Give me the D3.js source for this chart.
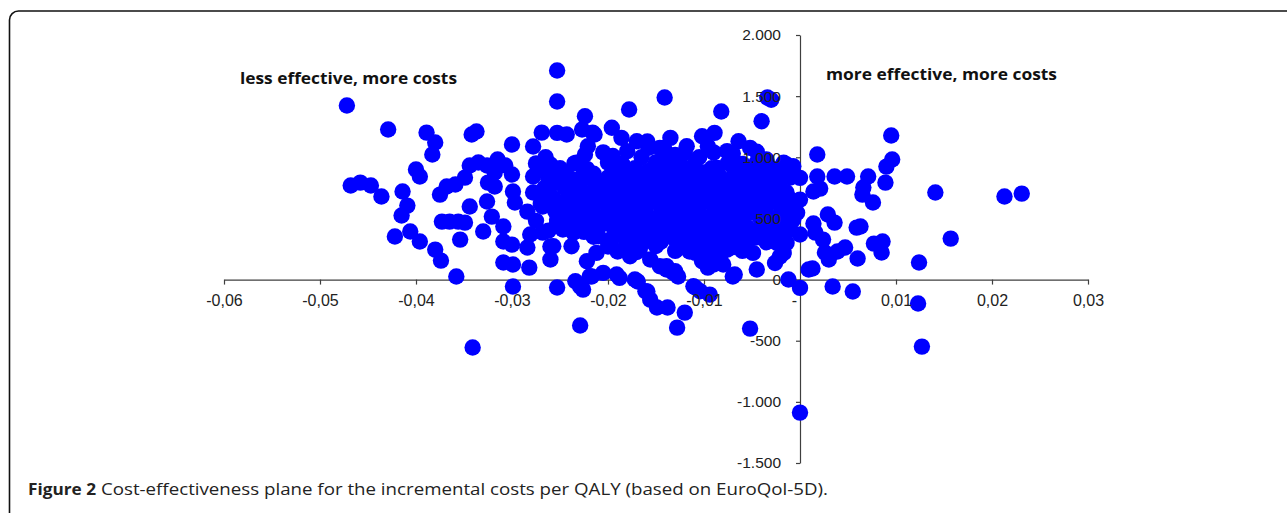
<!DOCTYPE html>
<html><head><meta charset="utf-8">
<script src="https://cdn.jsdelivr.net/npm/d3@7"></script>
<style>body{margin:0;background:#fff;overflow:hidden} svg{display:block}</style>
</head><body>
<svg id="chart" width="1287" height="513"></svg>
<script>
// Incremental effects (QALY) and incremental costs per bootstrap replicate
const effects = [
 -0.0472,-0.0429,-0.0468,-0.0458,-0.0447,-0.0436,-0.0400,-0.0396,-0.0414,-0.0409,
 -0.0415,-0.0422,-0.0406,-0.0396,-0.0389,-0.0380,-0.0383,-0.0380,-0.0374,-0.0358,
 -0.0375,-0.0368,-0.0359,-0.0349,-0.0344,-0.0335,-0.0326,-0.0342,-0.0337,-0.0318,
 -0.0315,-0.0307,-0.0300,-0.0318,-0.0326,-0.0344,-0.0373,-0.0365,-0.0356,-0.0349,
 -0.0354,-0.0330,-0.0321,-0.0309,-0.0299,-0.0297,-0.0309,-0.0300,-0.0309,-0.0299,
 -0.0299,-0.0341,-0.0300,-0.0282,-0.0284,-0.0281,-0.0284,-0.0278,-0.0278,-0.0278,
 -0.0269,-0.0253,-0.0253,-0.0253,-0.0268,-0.0260,-0.0260,-0.0325,-0.0253,-0.0243,
 -0.0224,-0.0227,-0.0214,-0.0196,-0.0186,-0.0170,-0.0158,-0.0146,-0.0260,-0.0257,
 -0.0247,-0.0266,-0.0257,-0.0250,-0.0253,-0.0233,-0.0227,-0.0224,-0.0221,-0.0236,
 -0.0257,-0.0238,-0.0236,-0.0234,-0.0226,-0.0219,-0.0205,-0.0191,-0.0222,-0.0212,
 -0.0210,-0.0219,-0.0205,-0.0177,-0.0167,-0.0156,-0.0146,-0.0139,-0.0161,-0.0172,
 -0.0188,-0.0082,-0.0040,-0.0135,-0.0102,-0.0089,-0.0118,-0.0096,-0.0064,-0.0052,
 -0.0076,-0.0035,-0.0017,-0.0007,-0.0087,0.0000,-0.0142,-0.0141,0.0000,-0.0003,
 -0.0007,0.0000,-0.0024,-0.0017,-0.0014,-0.0026,-0.0045,-0.0068,-0.0090,-0.0083,
 -0.0102,-0.0109,-0.0130,-0.0139,-0.0111,-0.0104,-0.0012,0.0000,0.0009,-0.0057,
 -0.0049,-0.0042,-0.0066,-0.0076,0.0095,0.0096,0.0090,0.0018,-0.0014,0.0018,
 0.0036,0.0049,0.0071,0.0066,0.0065,0.0089,0.0076,0.0021,0.0014,0.0141,
 0.0213,0.0231,0.0029,0.0036,0.0014,0.0016,0.0024,0.0059,0.0063,0.0077,
 0.0086,0.0085,0.0047,0.0039,0.0026,0.0030,0.0060,0.0013,0.0157,0.0124,
 0.0034,0.0055,0.0123,0.0127,0.0000,-0.0021,-0.0021,-0.0014,-0.0010,-0.0007,
 -0.0016,-0.0010,-0.0021,-0.0016,-0.0021,-0.0010,-0.0229,-0.0128,-0.0052,-0.0120,
 -0.0138,-0.0149,-0.0159,-0.0156,-0.0109,-0.0094,-0.0169,-0.0217,-0.0229,-0.0132,
 -0.0127,-0.0070,-0.0096,-0.0080,-0.0141,-0.0178,-0.0034,-0.0030,-0.0216,-0.0159,
 -0.0275,-0.0265,-0.0262,-0.0270,-0.0255,-0.0262,-0.0275,-0.0266,-0.0264,-0.0268,
 -0.0253,-0.0247,
 -0.0235,-0.0200,-0.0185,-0.0150,-0.0125,-0.0110,-0.0075,-0.0060,-0.0045,-0.0195,-0.0165,-0.0130,-0.0105,
 -0.0245,-0.0215,-0.0195,-0.0180,-0.0160,-0.0140,-0.0120,-0.0100,-0.0085,-0.0065,-0.0050,-0.0030,
 -0.0255,-0.0230,-0.0205,-0.0190,-0.0170,-0.0150,-0.0135,-0.0115,-0.0095,-0.0080,-0.0060,-0.0040,-0.0025,
 -0.0240,-0.0220,-0.0200,-0.0180,-0.0165,-0.0145,-0.0125,-0.0105,-0.0090,-0.0070,-0.0055,-0.0035,-0.0020,
 -0.0250,-0.0225,-0.0210,-0.0190,-0.0170,-0.0155,-0.0135,-0.0115,-0.0100,-0.0080,-0.0065,-0.0045,-0.0030,
 -0.0230,-0.0215,-0.0195,-0.0175,-0.0160,-0.0140,-0.0120,-0.0105,-0.0085,-0.0070,-0.0050,-0.0035,
 -0.0240,-0.0220,-0.0200,-0.0185,-0.0165,-0.0150,-0.0130,-0.0110,-0.0095,-0.0075,-0.0060,-0.0040,-0.0025,
 -0.0225,-0.0190,-0.0175,-0.0155,-0.0135,-0.0120,-0.0100,-0.0085,-0.0065,-0.0050,-0.0030,
 -0.0200,-0.0180,-0.0160,-0.0145,-0.0125,-0.0110,-0.0090,-0.0075,-0.0055,-0.0035,
 -0.0190,-0.0170,-0.0130,-0.0115,-0.0095,-0.0060,
 -0.0250,-0.0222,-0.0190,-0.0172,-0.0155,-0.0133,-0.0115,-0.0092,-0.0070,-0.0055,-0.0038,-0.0025,
 -0.0240,-0.0218,-0.0200,-0.0185,-0.0165,-0.0145,-0.0128,-0.0108,-0.0090,-0.0072,-0.0052,-0.0033,-0.0010,
 -0.0245,-0.0212,-0.0195,-0.0175,-0.0158,-0.0140,-0.0118,-0.0100,-0.0085,-0.0065,-0.0047,-0.0030,
 -0.0232,-0.0212,-0.0192,-0.0172,-0.0150,-0.0130,-0.0110,-0.0095,-0.0075,-0.0060,-0.0040,-0.0025,
 -0.0240,-0.0218,-0.0200,-0.0180,-0.0162,-0.0145,-0.0125,-0.0108,-0.0090,-0.0072,-0.0055,-0.0038,-0.0020,
 -0.0238,-0.0208,-0.0188,-0.0168,-0.0150,-0.0132,-0.0113,-0.0095,-0.0078,-0.0062,-0.0042,-0.0028,
 -0.0230,-0.0210,-0.0195,-0.0175,-0.0158,-0.0140,-0.0120,-0.0103,-0.0088,-0.0070,-0.0055,-0.0035,-0.0018,
 -0.0215,-0.0195,-0.0168,-0.0150,-0.0132,-0.0115,-0.0095,-0.0080,-0.0062,-0.0045,
 -0.0200,-0.0182,-0.0150,-0.0122,-0.0105,-0.0085,-0.0070,
 -0.0205,-0.0180,-0.0140,-0.0120,-0.0090,-0.0070,-0.0045
];
const costs = [
 1423,1227,769,793,769,679,900,843,720,605,
 524,352,393,311,1202,1121,1023,245,155,25,
 695,761,777,834,933,957,933,1186,1211,875,
 982,933,859,761,638,597,474,474,474,466,
 327,393,515,434,720,630,311,286,139,123,
 -57,-556,1104,98,556,368,262,843,712,1088,
 1202,1710,1456,-65,384,270,164,793,1200,1186,
 1336,1227,1186,1241,1159,1131,1077,1077,941,873,
 791,750,668,546,464,955,845,1023,1090,600,
 272,272,384,-14,-82,27,55,41,150,218,
 354,436,491,191,245,164,109,82,-96,0,
 14,1375,1295,1159,1172,1200,1090,1090,1131,1077,
 1050,982,955,927,914,832,1077,955,654,546,
 491,368,300,218,300,136,82,41,123,191,
 150,218,68,109,-55,-96,0,-68,82,272,
 218,354,327,245,1178,982,924,1023,941,843,
 843,843,843,753,695,793,630,744,720,712,
 679,703,532,466,458,384,327,425,434,294,
 311,221,262,229,221,164,172,90,335,139,
 -57,-98,-196,-548,-1088,834,761,712,654,597,
 532,491,327,303,188,409,-376,-393,-401,-270,
 -229,-229,-98,-164,-65,-123,-16,25,-57,57,
 25,25,98,123,1489,1391,1489,1470,1202,1129,
 950,1000,820,620,560,400,480,900,709,597,
 491,409,
 950,955,945,960,950,940,955,945,960,1010,1000,1020,1000,
 870,865,875,870,880,865,870,875,860,870,880,865,
 790,785,795,790,780,795,790,785,795,780,790,795,785,
 710,705,715,710,700,715,705,710,700,715,705,710,720,
 630,625,635,630,620,635,625,630,640,625,630,620,635,
 550,545,555,550,540,555,545,550,560,545,550,540,
 470,465,475,470,460,475,465,470,480,465,470,460,475,
 390,385,395,390,380,395,385,390,400,385,390,
 310,305,315,310,300,315,305,310,320,305,
 230,225,235,230,220,235,
 910,905,915,910,900,915,905,910,920,905,910,900,
 830,825,835,830,820,835,825,830,840,825,830,820,835,
 750,745,755,750,740,755,745,750,760,745,750,740,
 670,665,675,670,660,675,665,670,680,665,670,660,
 590,585,595,590,580,595,585,590,600,585,590,580,595,
 510,505,515,510,500,515,505,510,520,505,510,500,
 430,425,435,430,420,435,425,430,440,425,430,420,435,
 350,345,355,350,340,355,345,350,360,345,
 270,265,275,270,260,275,265,
 1040,1050,1045,1035,1040,1030,1045
];
const xTicks = [-0.06,-0.05,-0.04,-0.03,-0.02,-0.01,0,0.01,0.02,0.03];
const xTickLabels = ["-0,06","-0,05","-0,04","-0,03","-0,02","-0,01","-","0,01","0,02","0,03"];
const yTicks = [-1500,-1000,-500,0,500,1000,1500,2000];
const yTickLabels = ["-1.500","-1.000","-500","0","500","1.000","1.500","2.000"];
const quadrantLabels = ["less effective, more costs","more effective, more costs"];
const captionBold = "Figure 2";
const captionText = "Cost-effectiveness plane for the incremental costs per QALY (based on EuroQol-5D).";

const svg = d3.select("#chart");
const x = d3.scaleLinear().domain([-0.06, 0.03]).range([224, 1088]);
const y = d3.scaleLinear().domain([-1500, 2000]).range([463, 35]);
const axisColor = "#3f3f3f";

// frame
svg.append("rect").attr("x", 9.5).attr("y", 11).attr("width", 1300).attr("height", 540)
  .attr("rx", 9).attr("fill", "none").attr("stroke", "#111").attr("stroke-width", 1.6);

// axis lines & ticks (below the points)
const xLines = svg.append("g").attr("transform", `translate(0,${y(0)})`)
  .call(d3.axisBottom(x).tickValues(xTicks).tickSize(5).tickSizeOuter(0).tickFormat(""));
const yLines = svg.append("g").attr("transform", `translate(${x(0)},0)`)
  .call(d3.axisLeft(y).tickValues(yTicks).tickSize(4).tickSizeOuter(0).tickFormat(""));
[xLines, yLines].forEach(g => {
  g.selectAll("path,line").attr("stroke", axisColor).attr("stroke-width", 1.2);
});

// points
const n = Math.min(effects.length, costs.length);
svg.append("g").selectAll("circle").data(d3.range(n)).join("circle")
  .attr("cx", i => x(effects[i])).attr("cy", i => y(costs[i]))
  .attr("r", 8.2).attr("fill", "#0000ff");

// tick labels (on top of the points)
const xLab = svg.append("g").attr("transform", `translate(0,${y(0)})`)
  .call(d3.axisBottom(x).tickValues(xTicks).tickSize(0).tickPadding(15)
    .tickFormat((d, i) => xTickLabels[i]));
xLab.select(".domain").remove();
xLab.selectAll("text").attr("font-family", "'Liberation Sans', Arial, sans-serif")
  .attr("font-size", 16).attr("fill", "#222")
  .attr("dx", d => d === 0 ? -6 : 0);

const yLab = svg.append("g").attr("transform", `translate(${x(0)},0)`)
  .call(d3.axisLeft(y).tickValues(yTicks).tickSize(0).tickPadding(19)
    .tickFormat((d, i) => yTickLabels[i]));
yLab.select(".domain").remove();
yLab.selectAll("text").attr("font-family", "'Liberation Sans', Arial, sans-serif")
  .attr("font-size", 15.5).attr("fill", "#222");

// quadrant annotations
const qPos = [[240, 84, 217], [826, 80, 231]];
svg.append("g").selectAll("text").data(quadrantLabels).join("text")
  .attr("x", (d, i) => qPos[i][0]).attr("y", (d, i) => qPos[i][1])
  .attr("textLength", (d, i) => qPos[i][2]).attr("lengthAdjust", "spacingAndGlyphs")
  .attr("font-family", "'Open Sans', sans-serif").attr("font-weight", "bold")
  .attr("font-size", 15.5).attr("fill", "#111").text(d => d);

// caption
svg.append("text").attr("x", 28).attr("y", 495)
  .attr("textLength", 68).attr("lengthAdjust", "spacingAndGlyphs")
  .attr("font-family", "'Open Sans', sans-serif").attr("font-weight", "bold")
  .attr("font-size", 15.5).attr("fill", "#222").text(captionBold);
svg.append("text").attr("x", 101).attr("y", 495)
  .attr("textLength", 727).attr("lengthAdjust", "spacingAndGlyphs")
  .attr("font-family", "'Open Sans', sans-serif")
  .attr("font-size", 15.5).attr("fill", "#222").text(captionText);
</script>
</body></html>
